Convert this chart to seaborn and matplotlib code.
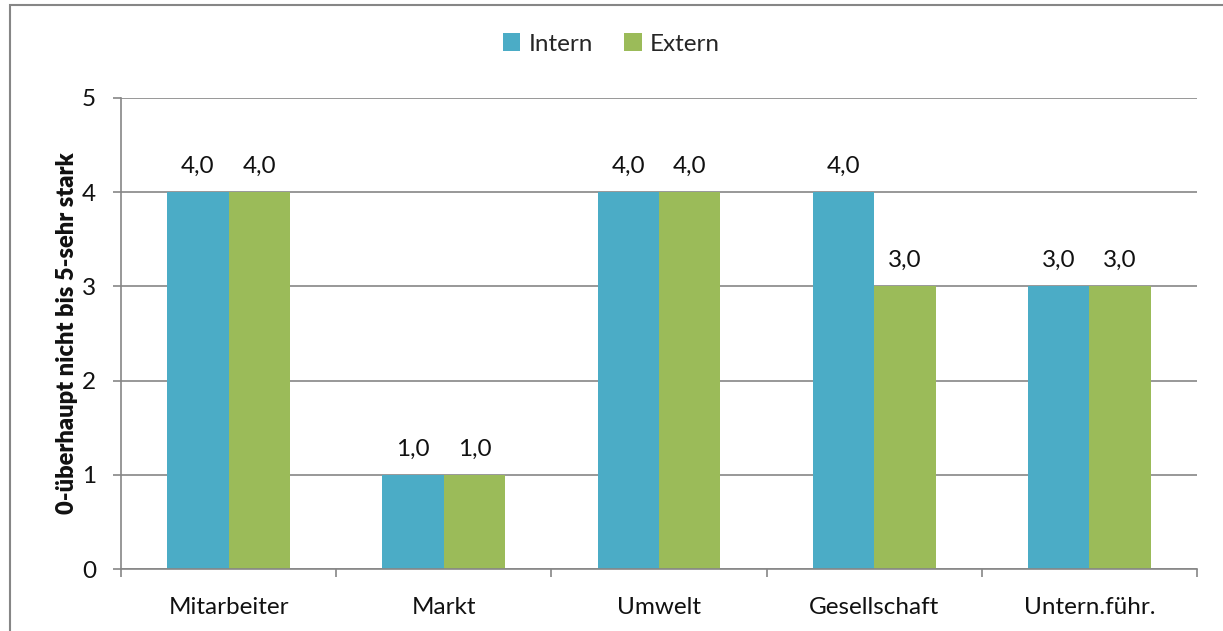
import pandas as pd
import numpy as np
import matplotlib
matplotlib.use("Agg")
import matplotlib.pyplot as plt
import seaborn as sns
from matplotlib.patches import Rectangle

categories = ['Mitarbeiter', 'Markt', 'Umwelt', 'Gesellschaft', 'Untern.führ.']
intern = [4.0, 1.0, 4.0, 4.0, 3.0]
extern = [4.0, 1.0, 4.0, 3.0, 3.0]
series = ['Intern', 'Extern']
colors = ['#4BACC6', '#9BBB59']

df = pd.DataFrame({
    'Kategorie': categories * 2,
    'Wert': intern + extern,
    'Serie': ['Intern'] * len(intern) + ['Extern'] * len(extern),
})

sns.set_style('white')
plt.rcParams['font.family'] = ['Lato', 'DejaVu Sans']
grey = '#868686'
txt = '#111111'
fs = 17.5

fig = plt.figure(figsize=(12.23, 6.31), dpi=100)
ax = fig.add_axes([121 / 1223, 1 - 569 / 631, (1197 - 121) / 1223, (569 - 98) / 631])

sns.barplot(data=df, x='Kategorie', y='Wert', hue='Serie', hue_order=series,
            palette=colors, width=0.57, saturation=1, linewidth=0, ax=ax, legend=True)

for cont in ax.containers:
    ax.bar_label(cont, labels=[f'{v:.1f}'.replace('.', ',') for v in cont.datavalues],
                 padding=11, fontsize=fs, color=txt)

ax.set_ylim(0, 5)
ax.set_xlim(-0.5, len(categories) - 0.5)
ax.set_yticks(range(6))
ax.yaxis.grid(True, color=grey, linewidth=1.2)
ax.set_axisbelow(True)
for s in ['top', 'right']:
    ax.spines[s].set_visible(False)
for s in ['left', 'bottom']:
    ax.spines[s].set_color(grey)
    ax.spines[s].set_linewidth(1.2)

ax.set_xticks(np.arange(-0.5, len(categories)), minor=False)
ax.set_xticklabels([])
ax.set_xticks(range(len(categories)), minor=True)
ax.set_xticklabels(categories, minor=True, fontsize=fs, color=txt)
ax.tick_params(axis='x', which='major', direction='out', length=6, color=grey, width=1.2, bottom=True)
ax.tick_params(axis='x', which='minor', length=0, pad=20)
ax.tick_params(axis='y', direction='out', length=6, color=grey, width=1.2, left=True,
               labelsize=fs, labelcolor=txt, pad=12)

ax.set_xlabel('')
ax.set_ylabel('0-überhaupt nicht bis 5-sehr stark', fontsize=17, fontweight='heavy',
              color=txt, labelpad=3)

ax.legend(loc='center', bbox_to_anchor=(0.5, 1 - 44 / 631), bbox_transform=fig.transFigure,
          ncol=2, frameon=False, fontsize=fs, handlelength=0.7, handleheight=0.7,
          handletextpad=0.35, columnspacing=1.3)

fig.patches.append(Rectangle((9.5 / 1223, -0.1), 1.2, 1.1 - 4.5 / 631,
                             transform=fig.transFigure, fill=False,
                             edgecolor=grey, linewidth=1.5, figure=fig))

fig.savefig('out.png', dpi=100)
